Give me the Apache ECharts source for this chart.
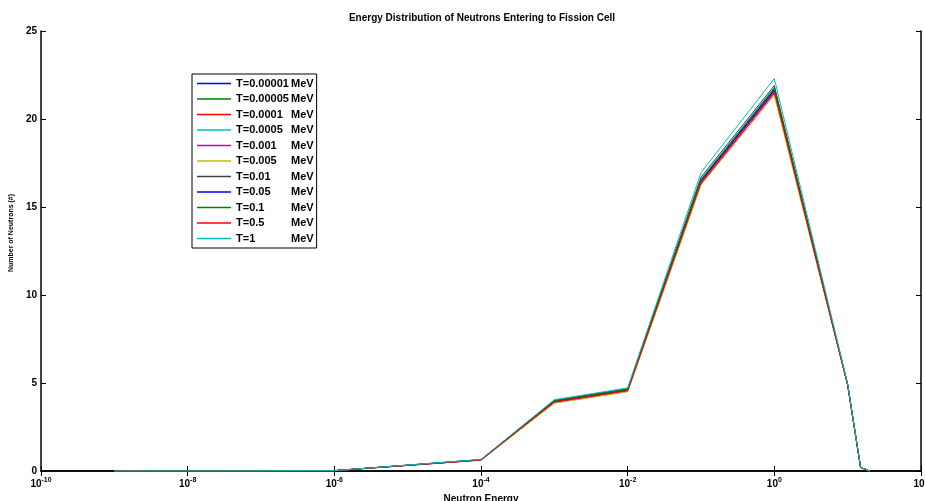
<!DOCTYPE html>
<html lang="en">
<head>
    <meta charset="UTF-8">
    <title>Energy Distribution of Neutrons</title>
    <script src="https://cdn.jsdelivr.net/npm/echarts@6.0.0/dist/echarts.min.js"></script>
    <style>
        html, body { margin: 0; padding: 0; background: #fff; }
    </style>
</head>
<body>
<div id="chart" style="height: 501px; width: 925px;"></div>
<script>
    // neutron energies (MeV) where the counts were taken
    const energies = [1e-9, 1e-8, 1e-7, 1e-6, 1e-4, 1e-3, 1e-2, 1e-1, 1, 10, 15, 20];

    const temps = ['T=0.00001', 'T=0.00005', 'T=0.0001', 'T=0.0005', 'T=0.001', 'T=0.005',
        'T=0.01', 'T=0.05', 'T=0.1', 'T=0.5', 'T=1'];

    // MATLAB colour order, cycled
    const colors = ['#0000ff', '#008000', '#ff0000', '#00bfbf', '#bf00bf', '#bfbf00',
        '#404040', '#0000ff', '#008000', '#ff0000', '#00bfbf'];

    const t00001 = [0, 0.004, 0.01, 0.02, 0.63, 3.95, 4.60, 16.45, 21.60, 4.90, 0.20, 0];
    const t00005 = [0, 0.004, 0.01, 0.02, 0.64, 3.98, 4.62, 16.50, 21.70, 4.90, 0.20, 0];
    const t0001 = [0, 0.004, 0.01, 0.02, 0.62, 3.90, 4.55, 16.35, 21.50, 4.88, 0.20, 0];
    const t0005 = [0, 0.004, 0.01, 0.02, 0.64, 4.00, 4.65, 16.60, 21.80, 4.92, 0.20, 0];
    const t001 = [0, 0.004, 0.01, 0.02, 0.62, 3.88, 4.53, 16.30, 21.45, 4.87, 0.20, 0];
    const t005 = [0, 0.004, 0.01, 0.02, 0.61, 3.85, 4.50, 16.25, 21.35, 4.85, 0.19, 0];
    const t01 = [0, 0.004, 0.01, 0.02, 0.65, 4.02, 4.68, 16.70, 21.90, 4.93, 0.20, 0];
    const t05 = [0, 0.004, 0.01, 0.02, 0.63, 3.96, 4.60, 16.50, 21.65, 4.90, 0.20, 0];
    const t1 = [0, 0.004, 0.01, 0.02, 0.64, 3.98, 4.63, 16.55, 21.75, 4.90, 0.20, 0];
    const t5 = [0, 0.004, 0.01, 0.02, 0.63, 3.93, 4.58, 16.40, 21.55, 4.89, 0.20, 0];
    const t10 = [0, 0.004, 0.01, 0.02, 0.66, 4.05, 4.72, 16.95, 22.30, 4.95, 0.21, 0];

    const counts = [t00001, t00005, t0001, t0005, t001, t005, t01, t05, t1, t5, t10];

    const font = 'Liberation Sans';
    const axisColor = '#000';

    const chart = echarts.init(document.querySelector('#chart'));

    const logAxis = {
        type: 'log',
        logBase: 10,
        min: 1e-10,
        max: 1e2,
        interval: 2,
        axisLine: { show: true, lineStyle: { color: axisColor, width: 1.5 } },
        axisTick: { inside: true, length: 5, lineStyle: { color: axisColor } },
        splitLine: { show: false },
        minorTick: { show: false }
    };

    const valueAxis = {
        type: 'value',
        min: 0,
        max: 25,
        interval: 5,
        axisLine: { show: true, lineStyle: { color: axisColor, width: 1.5 } },
        axisTick: { inside: true, length: 5, lineStyle: { color: axisColor } },
        splitLine: { show: false }
    };

    chart.setOption({
        animation: false,
        title: {
            text: 'Energy Distribution of Neutrons Entering to Fission Cell',
            left: 477,
            top: 8,
            textAlign: 'center',
            textStyle: { fontFamily: font, fontSize: 10, fontWeight: 'bold', color: '#000' }
        },
        legend: {
            orient: 'vertical',
            left: 192,
            top: 74,
            padding: [4, 3, 4, 5],
            icon: 'rect',
            itemWidth: 34,
            itemHeight: 1.5,
            itemGap: 4.5,
            borderColor: '#000',
            borderWidth: 1,
            data: temps,
            formatter: name => '{a|' + name + '}{b|MeV}',
            textStyle: {
                fontFamily: font,
                fontSize: 11,
                fontWeight: 'bold',
                color: '#000',
                rich: {
                    a: { fontFamily: font, fontSize: 11, fontWeight: 'bold', width: 55, height: 12 },
                    b: { fontFamily: font, fontSize: 11, fontWeight: 'bold', height: 12 }
                }
            }
        },
        grid: { left: 41, right: 4, top: 31, bottom: 30, containLabel: false, outerBoundsMode: 'none' },
        xAxis: [
            Object.assign({}, logAxis, {
                position: 'bottom',
                name: 'Neutron Energy',
                nameLocation: 'middle',
                nameGap: 22,
                nameTextStyle: { fontFamily: font, fontSize: 10, fontWeight: 'bold', color: '#000' },
                axisLabel: {
                    margin: 6,
                    formatter: v => '{b|10}{s|' + Math.round(Math.log10(v)) + '}',
                    rich: {
                        b: { fontFamily: font, fontSize: 10, fontWeight: 'bold', color: '#000' },
                        s: { fontFamily: font, fontSize: 7, fontWeight: 'bold', color: '#000', padding: [0, 0, 7, 0] }
                    }
                }
            }),
            Object.assign({}, logAxis, { position: 'top', axisLabel: { show: false } })
        ],
        yAxis: [
            Object.assign({}, valueAxis, {
                position: 'left',
                name: 'Number of Neutrons (#)',
                nameLocation: 'middle',
                nameGap: 25,
                nameTextStyle: { fontFamily: font, fontSize: 7, fontWeight: 'bold', color: '#000', padding: [0, 0, 0, 36] },
                axisLabel: { margin: 4, fontFamily: font, fontSize: 10, fontWeight: 'bold', color: '#000' }
            }),
            Object.assign({}, valueAxis, { position: 'right', axisLabel: { show: false } })
        ],
        series: temps.map((t, i) => ({
            name: t,
            type: 'line',
            xAxisIndex: 0,
            yAxisIndex: 0,
            symbol: 'none',
            color: colors[i],
            lineStyle: { width: 1, color: colors[i] },
            data: energies.map((e, j) => [e, counts[i][j]])
        }))
    });
</script>
</body>
</html>
